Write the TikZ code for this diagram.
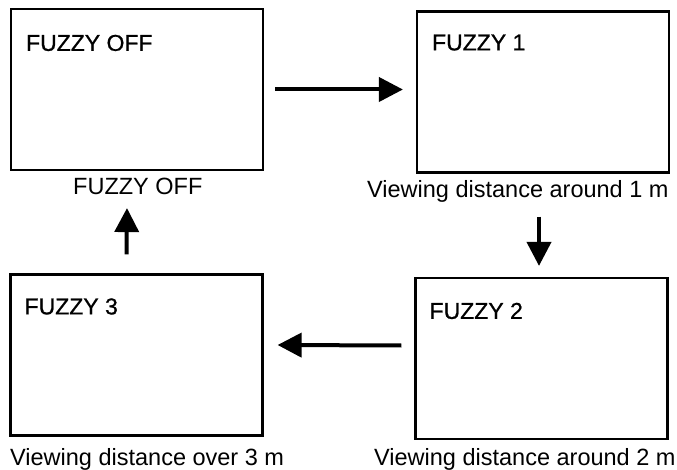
\documentclass[tikz,border=0pt]{standalone}
\usepackage{fontspec}
\setmainfont{Liberation Sans}
\newfontfamily\namefont[FakeBold=0.8]{Liberation Sans}
\usetikzlibrary{arrows.meta}

\begin{document}
\begin{tikzpicture}[x=1pt, y=-1pt,
  every node/.style = {font=\fontsize{23.5}{28}\selectfont, inner sep=0pt},
  screen/.style = {draw, line width=2.2pt, minimum width=252pt, minimum height=161pt},
  caption/.style = {anchor=base west},
  modename/.style = {caption, font=\namefont\fontsize{23}{28}\selectfont},
  flow/.style = {line width=4pt, -{Triangle[length=24pt, width=24pt]}}]
  \useasboundingbox (0,0) rectangle (677,470);
  % screens
  \node[screen] (off) at (137,89.5) {};
  \node[screen] (one) at (543,92) {};
  \node[screen] (two) at (541.5,358.5) {};
  \node[screen] (three) at (136.5,355) {};
  % mode names
  \node[modename] (offname) at ([xshift=16pt, yshift=-43pt]off.north west) {FUZZY OFF};
  \node[modename] (onename) at ([xshift=16pt, yshift=-40pt]one.north west) {FUZZY 1};
  \node[modename] (twoname) at ([xshift=15pt, yshift=-42pt]two.north west) {FUZZY 2};
  \node[modename] (threename) at ([xshift=15pt, yshift=-41pt]three.north west) {FUZZY 3};
  % captions
  \node[caption] (offcap) at (73,195) {FUZZY OFF};
  \node[caption] (onecap) at (367,198) {Viewing distance around 1 m};
  \node[caption] (twocap) at (374,465) {Viewing distance around 2 m};
  \node[caption] (threecap) at (10,465) {Viewing distance over 3 m};
  % order of the modes
  \coordinate (onebelow) at ([xshift=-4pt, yshift=-43pt]one.south);
  \coordinate (twoabove) at ([yshift=11pt]two.north);
  \draw[flow] ([xshift=11pt]off.east) -- ([xshift=-13pt]off.east -| one.west);
  \draw[flow] (onebelow) -- (onebelow |- twoabove);
  \draw[flow] ([xshift=-13pt, yshift=13pt]two.west) -- ([xshift=14pt, yshift=10pt]three.east);
  \draw[flow] ([xshift=-10pt, yshift=19pt]three.north) -- ([xshift=-10pt, yshift=-37pt]off.south);
\end{tikzpicture}
\end{document}
